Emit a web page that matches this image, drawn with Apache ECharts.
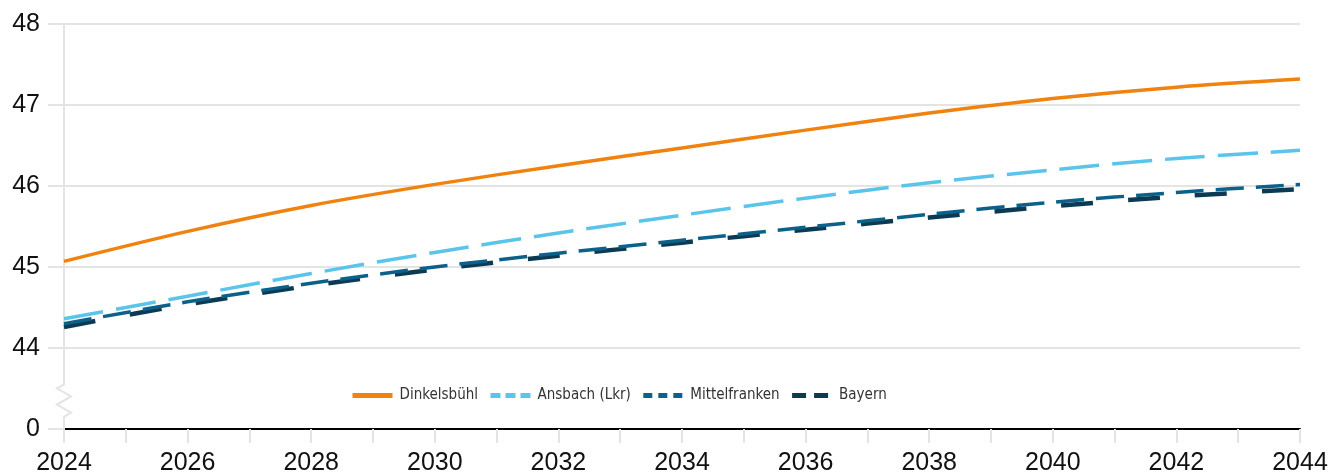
<!DOCTYPE html>
<html>
<head>
<meta charset="utf-8">
<script src="https://cdn.jsdelivr.net/npm/echarts@6/dist/echarts.min.js"></script>
<style>
  html, body { margin: 0; padding: 0; background: #fff; }
  #chart { width: 1335px; height: 476px; }
</style>
</head>
<body>
<div id="chart"></div>
<script>
var years = [2024, 2026, 2028, 2030, 2032, 2034, 2036, 2038, 2040, 2042, 2044];
var dinkelsbuehl = [45.07, 45.44, 45.76, 46.02, 46.25, 46.47, 46.69, 46.90, 47.08, 47.22, 47.32];
var ansbach      = [44.36, 44.64, 44.92, 45.18, 45.42, 45.64, 45.85, 46.04, 46.20, 46.34, 46.44];
var mittelfranken= [44.30, 44.57, 44.80, 45.00, 45.17, 45.33, 45.49, 45.65, 45.80, 45.92, 46.02];
var bayern       = [44.26, 44.54, 44.77, 44.97, 45.14, 45.30, 45.46, 45.61, 45.75, 45.87, 45.96];
var names = ['Dinkelsbühl', 'Ansbach (Lkr)', 'Mittelfranken', 'Bayern'];
var yTicks = [43, 44, 45, 46, 47, 48];   // 43 stands for the broken "0"

var chart = echarts.init(document.getElementById('chart'));

function pairs(vals) {
    var out = [];
    for (var i = 0; i < years.length; i++) out.push([years[i], vals[i]]);
    return out;
}

var fontFam = "'Liberation Sans', Arial, sans-serif";

// legend icons get shorter dashes than the plotted lines
var legendDash = ['solid', [10, 5], [9, 6], [14, 8]];
var legendData = [];
for (var i = 0; i < names.length; i++) {
    legendData.push({ name: names[i], lineStyle: { width: 5, type: legendDash[i] } });
}

var option = {
    animation: false,
    grid: { left: 64, right: 35, top: 24, bottom: 47 },
    legend: {
        data: legendData,
        left: 345,
        top: 383,
        itemWidth: 40,
        itemHeight: 14,
        itemGap: 10,
        itemStyle: { opacity: 0 },
        textStyle: { fontFamily: "'DejaVu Sans Condensed', 'Liberation Sans', sans-serif", fontSize: 15, color: '#333', padding: [0, 0, 0, 2] }
    },
    xAxis: {
        type: 'value',
        min: 2024, max: 2044, interval: 2,
        axisLine: { show: true, lineStyle: { color: '#000', width: 2 } },
        axisTick: { show: true, length: 14, lineStyle: { color: '#e4e4e4', width: 2 } },
        minorTick: { show: true, splitNumber: 2, length: 14, lineStyle: { color: '#e4e4e4', width: 2 } },
        splitLine: { show: false },
        axisLabel: { margin: 22, fontSize: 25, color: '#111', fontFamily: fontFam, formatter: function (v) { return String(v); } }
    },
    yAxis: {
        type: 'value',
        min: 43, max: 48, interval: 1,
        axisLine: { show: false },
        axisTick: { show: true, length: 16, lineStyle: { color: '#e4e4e4', width: 2 } },
        splitLine: { show: true, lineStyle: { color: '#e4e4e4', width: 2 } },
        axisLabel: {
            margin: 24, fontSize: 25, color: '#111', fontFamily: fontFam,
            formatter: function (v) { return v === yTicks[0] ? '0' : String(v); }
        }
    },
    series: [
        {
            // y axis line with break zigzag
            type: 'custom',
            silent: true,
            z: 1,
            data: [[2024, 48]],
            renderItem: function (params, api) {
                var top = api.coord([2024, 48]);
                var b1 = api.coord([2024, 43.55]);
                var b2 = api.coord([2024, 43.15]);
                var bot = api.coord([2024, 43]);
                var x = top[0];
                var h = b2[1] - b1[1];
                var pts = [
                    [x, top[1]], [x, b1[1]],
                    [x - 7, b1[1] + h * 0.12],
                    [x + 7, b1[1] + h * 0.37],
                    [x - 7, b1[1] + h * 0.62],
                    [x + 7, b1[1] + h * 0.87],
                    [x, b2[1]], [x, bot[1]]
                ];
                return {
                    type: 'polyline',
                    shape: { points: pts },
                    style: { stroke: '#e4e4e4', lineWidth: 2, fill: null }
                };
            }
        },
        {
            name: names[3], type: 'line', data: pairs(bayern), smooth: 0.3, symbol: 'none', z: 3,
            lineStyle: { color: '#0b3a52', width: 4.5, type: [32, 35] }, itemStyle: { color: '#0b3a52' }
        },
        {
            name: names[2], type: 'line', data: pairs(mittelfranken), smooth: 0.3, symbol: 'none', z: 4,
            lineStyle: { color: '#0b6189', width: 3.5, type: [28, 12] }, itemStyle: { color: '#0b6189' }
        },
        {
            name: names[1], type: 'line', data: pairs(ansbach), smooth: 0.3, symbol: 'none', z: 5,
            lineStyle: { color: '#5bc4ea', width: 3.5, type: [40, 13] }, itemStyle: { color: '#5bc4ea' }
        },
        {
            name: names[0], type: 'line', data: pairs(dinkelsbuehl), smooth: 0.3, symbol: 'none', z: 6,
            lineStyle: { color: '#f0820f', width: 3.5 }, itemStyle: { color: '#f0820f' }
        }
    ]
};

chart.setOption(option);
</script>
</body>
</html>
